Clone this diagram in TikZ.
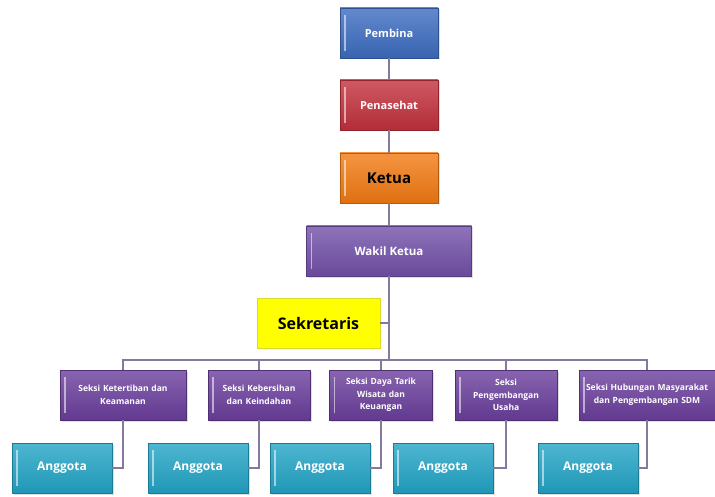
\documentclass[tikz,border=0pt]{standalone}
\usepackage{fontspec}
\setmainfont{Open Sans}
\usetikzlibrary{positioning}
\usetikzlibrary{shadows}
\definecolor{pembinablue}{HTML}{3C6CC0}
\definecolor{nasehatred}{HTML}{C2303C}
\definecolor{ketuaorange}{HTML}{F27A12}
\definecolor{wakilpurple}{HTML}{7250A8}
\definecolor{seksipurple}{HTML}{6A3E9C}
\definecolor{anggotateal}{HTML}{22A4C6}
\definecolor{sekyellow}{HTML}{FFFF00}
\definecolor{linkgray}{HTML}{8579A0}
\tikzset{
  box/.style={draw=#1!75!black, top color=#1!80!white, bottom color=#1!92!black,
    minimum height=50pt, inner sep=2pt, align=center, text=white, font=\bfseries,
    drop shadow={opacity=0.25, shadow xshift=1.5pt, shadow yshift=-1.5pt},
    path picture={\draw[white, opacity=0.55, line width=1.3pt]
      ([xshift=5pt,yshift=-7pt]path picture bounding box.north west) --
      ([xshift=5pt,yshift=7pt]path picture bounding box.south west);}},
  seksi/.style={box=seksipurple, text width=#1, font=\bfseries\fontsize{8.5}{12.5}\selectfont},
  anggota/.style={box=anggotateal, minimum width=100pt, font=\bfseries\fontsize{12}{14}\selectfont},
  link/.style={draw=linkgray, line width=1.4pt}
}
\begin{document}
\begin{tikzpicture}[x=1pt, y=-1pt]
    \useasboundingbox (0,0) rectangle (715,497);
    \path (389,33) node[box=pembinablue, minimum width=98pt, font=\bfseries\fontsize{11}{13}\selectfont] (pembina) {Pembina}
     ++ (0,72) node[box=nasehatred, minimum width=98pt, font=\bfseries\fontsize{11}{13}\selectfont] (penasehat) {Penasehat}
     ++ (0,73) node[box=ketuaorange, minimum width=98pt, text=black, font=\bfseries\fontsize{15}{17}\selectfont] (ketua) {Ketua}
     ++ (0,73) node[box=wakilpurple, minimum width=165pt, font=\bfseries\fontsize{11.5}{13}\selectfont] (wakil) {Wakil Ketua};
    \node[draw=sekyellow!70!gray, fill=sekyellow, minimum width=123pt, minimum height=50pt,
      font=\bfseries\fontsize{16}{18}\selectfont] (sek) at (318.5,323) {Sekretaris};
    \node[seksi=122pt] (s1) at (123,395) {Seksi Ketertiban dan\\Keamanan};
    \node[seksi=98pt] (s2) at (259,395) {Seksi Kebersihan\\dan Keindahan};
    \node[seksi=99pt] (s3) at (381,395) {Seksi Daya Tarik\\Wisata dan\\Keuangan};
    \node[seksi=98pt] (s4) at (506,395) {Seksi\\Pengembangan\\Usaha};
    \node[seksi=132pt] (s5) at (647,395) {Seksi Hubungan Masyarakat\\dan Pengembangan SDM};
    \node[anggota] (a1) at (62,468) {Anggota};
    \node[anggota] (a2) at (198,468) {Anggota};
    \node[anggota] (a3) at (320,468) {Anggota};
    \node[anggota] (a4) at (443,468) {Anggota};
    \node[anggota] (a5) at (588,468) {Anggota};
    \coordinate (bus) at (389,360);
    \draw[link] (pembina) -- (penasehat) -- (ketua) -- (wakil) -- (bus);
    \draw[link] (sek.east) -- (sek.east -| wakil);
    \draw[link] (s1.north) |- (bus) -| (s5.north);
    \foreach \s in {s2,s3,s4}
      \draw[link] (\s.north) -- (\s.north |- bus);
    \foreach \i in {1,...,5}
      \draw[link] (s\i.south) |- (a\i.east);
\end{tikzpicture}
\end{document}
